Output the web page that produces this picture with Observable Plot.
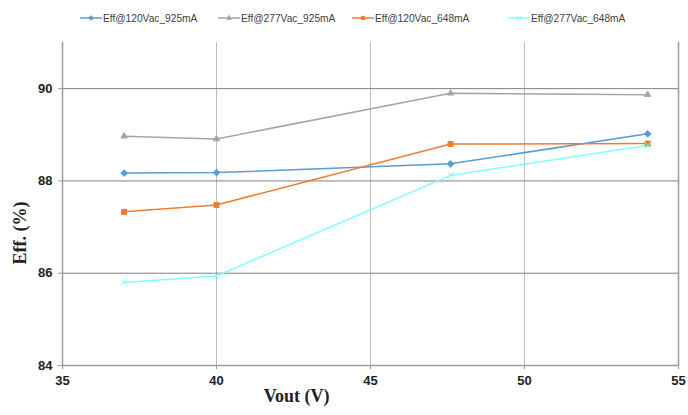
<!DOCTYPE html>
<html><head><meta charset="utf-8">
<script src="https://cdn.jsdelivr.net/npm/d3@7"></script>
<script src="https://cdn.jsdelivr.net/npm/@observablehq/plot@0.6"></script>
<style>
body{margin:0;background:#fff;}
#wrap{position:relative;width:688px;height:415px;}
#legend{position:absolute;top:12px;left:0;width:688px;height:14px;font-family:"Liberation Sans",Arial,sans-serif;font-size:10.2px;color:#404040;}
#legend .it{position:absolute;top:0;display:flex;align-items:center;white-space:nowrap;}
#legend svg{margin-right:1px;}
</style></head>
<body><div id="wrap"><div id="legend"></div><div id="chart"></div></div>
<script>
const vout = [37, 40, 47.6, 54];
const seriesNames = ["Eff@120Vac_925mA", "Eff@277Vac_925mA", "Eff@120Vac_648mA", "Eff@277Vac_648mA"];
const eff120_925 = [88.17, 88.18, 88.37, 89.02];
const eff277_925 = [88.97, 88.91, 89.90, 89.87];
const eff120_648 = [87.33, 87.48, 88.80, 88.81];
const eff277_648 = [85.80, 85.94, 88.12, 88.77];
const colors = ["#5B9BD5", "#A5A5A5", "#ED7D31", "#7FFFFF"];
const symbols = ["diamond2", "triangle2", "square2", "times"];
const xTicks = [35, 40, 45, 50, 55];
const yTicks = [84, 86, 88, 90];

const allVals = [eff120_925, eff277_925, eff120_648, eff277_648];
const data = [];
seriesNames.forEach((s, i) => vout.forEach((v, j) => data.push({series: s, x: v, y: allVals[i][j]})));

const chart = Plot.plot({
  width: 688, height: 415,
  marginLeft: 62, marginRight: 10, marginTop: 42, marginBottom: 50,
  style: {fontFamily: "'Liberation Sans', Arial, sans-serif", fontSize: "13px", fontWeight: "bold", color: "#333", background: "#fff"},
  x: {domain: [35, 55], ticks: xTicks, label: null},
  y: {domain: [84, 91], ticks: yTicks, label: null},
  color: {domain: seriesNames, range: colors},
  symbol: {domain: seriesNames, range: symbols},
  marks: [
    Plot.ruleX([40, 45, 50], {stroke: "#bdbdbd", strokeWidth: 1}),
    Plot.ruleY([86, 88, 90], {stroke: "#7f7f7f", strokeWidth: 1}),
    Plot.ruleX([55], {stroke: "#9a9a9a", strokeWidth: 1.5}),
    Plot.ruleX([35], {stroke: "#9a9a9a", strokeWidth: 1.5}),
    Plot.ruleY([84], {stroke: "#9a9a9a", strokeWidth: 1.5}),
    Plot.axisX({ticks: xTicks, tickFormat: d => String(d), tickSize: 4, tickPadding: 6, stroke: "#9a9a9a", fill: "#222", fontWeight: "bold", fontSize: 13}),
    Plot.axisY({ticks: yTicks, tickFormat: d => String(d), tickSize: 4, tickPadding: 6, stroke: "#9a9a9a", fill: "#222", fontWeight: "bold", fontSize: 13}),
    Plot.line(data, {x: "x", y: "y", z: "series", stroke: "series", strokeWidth: 1.5}),
    Plot.dot(data, {x: "x", y: "y", symbol: "series", fill: "series", stroke: "series", r: d => d.series === seriesNames[2] ? 3.6 : 3.2, strokeWidth: 1}),
    Plot.text(["Vout (V)"], {frameAnchor: "bottom", x: 42.6, dy: 36, text: d => d, fontFamily: "'Liberation Serif', 'Times New Roman', serif", fontSize: 18, fontWeight: "bold", fill: "#222"}),
    Plot.text(["Eff. (%)"], {frameAnchor: "left", textAnchor: "middle", dx: -42, y: 86.87, x: 35, text: d => d, rotate: -90, fontFamily: "'Liberation Serif', 'Times New Roman', serif", fontSize: 18, fontWeight: "bold", fill: "#222"})
  ]
});
document.getElementById("chart").appendChild(chart);

// legend
const lg = document.getElementById("legend");
const lefts = [80, 218, 352, 508];
const symMap = {diamond2: "Diamond2", triangle2: "Triangle2", square2: "Square2", times: "Times"};
seriesNames.forEach((s, i) => {
  const it = document.createElement("div");
  it.className = "it";
  it.style.left = lefts[i] + "px";
  const sym = d3.symbol(d3["symbol" + symMap[symbols[i]]], 14)();
  it.innerHTML = `<svg width="22" height="12"><line x1="0" x2="22" y1="6" y2="6" stroke="${colors[i]}" stroke-width="1.5"/><path d="${sym}" transform="translate(11,6)" fill="${colors[i]}" stroke="${colors[i]}"/></svg><span>${s}</span>`;
  lg.appendChild(it);
});
</script></body></html>
